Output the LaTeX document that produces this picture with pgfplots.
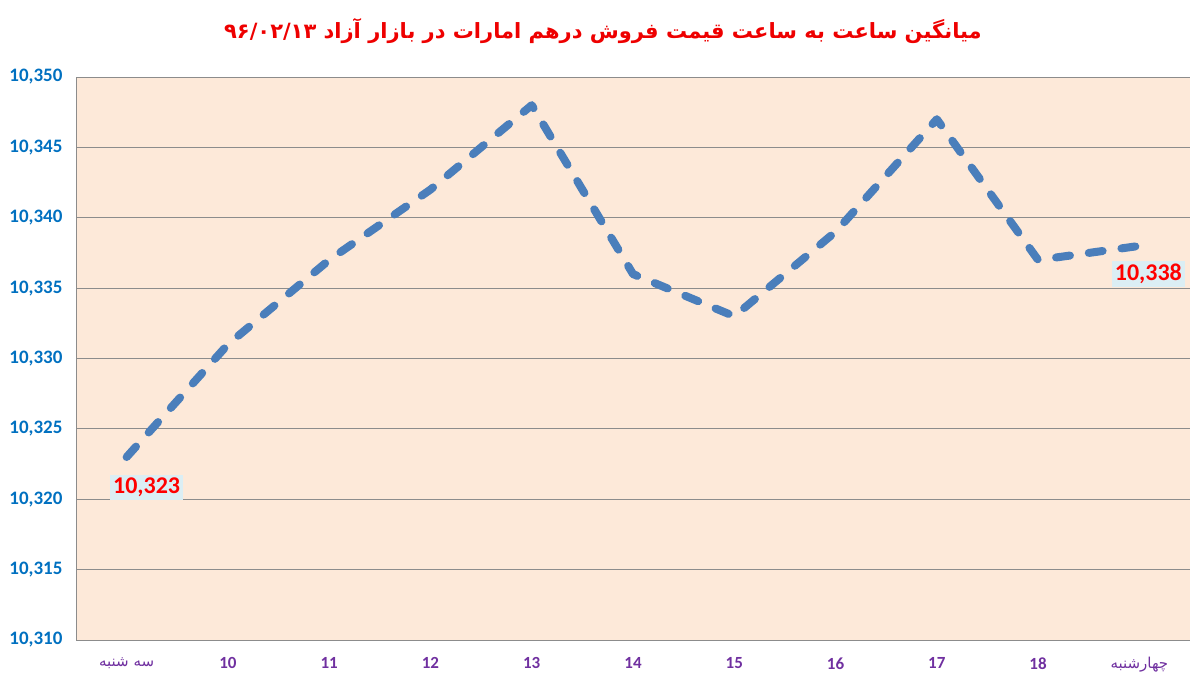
\documentclass[border=0pt]{standalone}
\usepackage{pgfplots}
\pgfplotsset{compat=1.18}
\usepackage{fontspec}
\setmainfont{Carlito}
\newfontfamily\arabicfont[Script=Arabic]{DejaVu Sans}
\TeXXeTstate=1
\definecolor{bgpeach}{HTML}{FDE9D9}
\definecolor{gridgray}{HTML}{8C8C8C}
\definecolor{tickblue}{HTML}{0070C0}
\definecolor{tickpurple}{HTML}{7030A0}
\definecolor{linecol}{HTML}{4A7EBB}
\definecolor{lblbox}{HTML}{DBEEF4}
\definecolor{titlered}{HTML}{EE0000}
\begin{document}
\begin{tikzpicture}
\useasboundingbox (-76pt,-42pt) rectangle (1125pt,640pt);
\begin{axis}[
  at={(0,0)}, anchor=south west,
  scale only axis,
  width=1114pt, height=563pt,
  xmin=-0.5, xmax=10.5,
  ymin=10310, ymax=10350,
  ytick={10310,10315,10320,10325,10330,10335,10340,10345,10350},
  xtick={0,...,10},
  xticklabels={{\fontsize{15}{17}\mdseries\arabicfont\beginR سه شنبه\endR},10,11,12,13,14,15,16,17,18,{\fontsize{15}{17}\mdseries\arabicfont\beginR چهارشنبه\endR}},
  scaled y ticks=false,
  /pgf/number format/assume math mode=true,
  /pgf/number format/fixed,
  /pgf/number format/precision=0,
  /pgf/number format/1000 sep={,},
  yticklabel style={font=\fontsize{19}{22}\selectfont\bfseries, text=tickblue, xshift=-10pt},
  xticklabel style={font=\fontsize{17}{20}\selectfont\bfseries, text=tickpurple, yshift=-14pt},
  major tick length=0pt,
  ymajorgrids,
  grid style={gridgray, line width=0.8pt},
  axis background/.style={fill=bgpeach},
  axis x line*=bottom,
  axis y line*=left,
  axis line style={gridgray, line width=0.9pt, -},
  title={\arabicfont\bfseries\beginR میانگین ساعت به ساعت قیمت فروش درهم امارات در بازار آزاد \beginL ۹۶/۰۲/۱۳\endL\endR},
  title style={font=\fontsize{21}{24}\selectfont, text=titlered, at={(0.5,1)}, anchor=center, yshift=40pt, xshift=-30pt},
  clip=false,
]
\addplot[linecol, line width=8pt, line cap=round, line join=round, dash pattern=on 14pt off 19pt] coordinates {
  (0,10323) (1,10331) (2,10337) (3,10342) (4,10348) (5,10336)
  (6,10333) (7,10339) (8,10347) (9,10337) (10,10338)
};
\node[fill=lblbox, text=red, font=\fontsize{24}{26}\selectfont\bfseries, inner sep=3pt, anchor=north, xshift=20pt, yshift=-18pt] at (axis cs:0,10323) {10,323};
\node[fill=lblbox, text=red, font=\fontsize{24}{26}\selectfont\bfseries, inner sep=3pt, anchor=north, xshift=9pt, yshift=-15pt] at (axis cs:10,10338) {10,338};
\end{axis}
\end{tikzpicture}
\end{document}
